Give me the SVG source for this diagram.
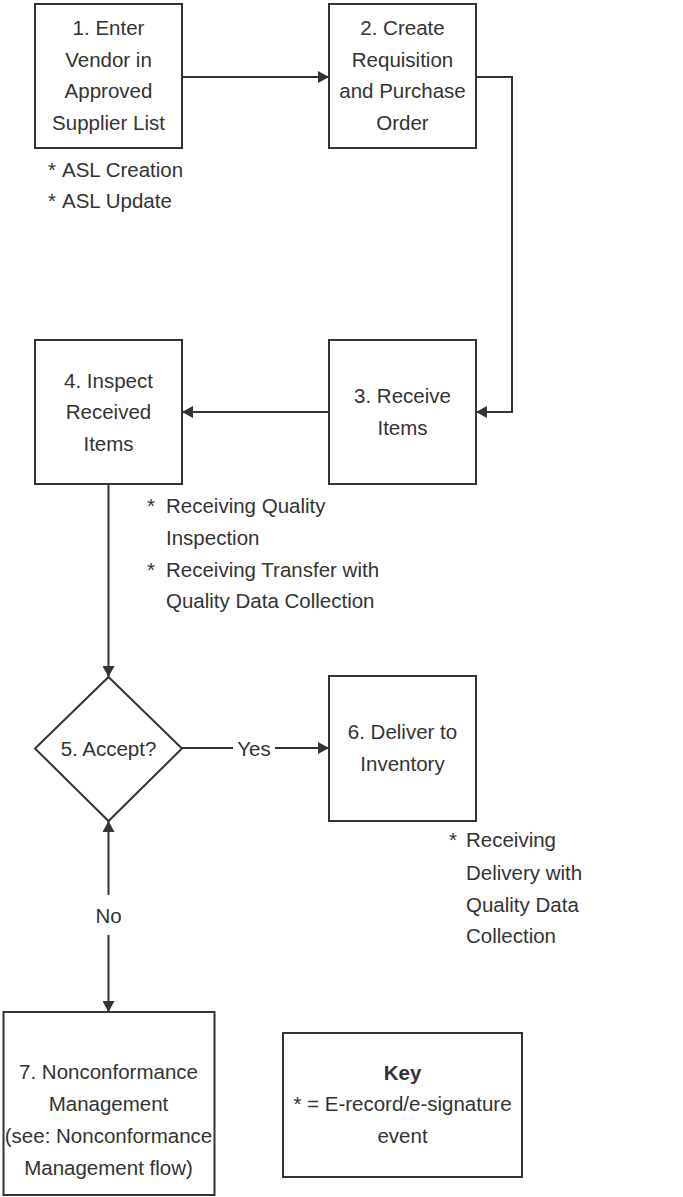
<svg xmlns="http://www.w3.org/2000/svg" width="683" height="1197" viewBox="0 0 683 1197">
  <style>
    .box { fill: #ffffff; stroke: #333333; stroke-width: 2; }
    .line { fill: none; stroke: #333333; stroke-width: 2; }
    text { font-family: "Liberation Sans", Arial, sans-serif; font-size: 20.5px; fill: #333333; }
    .c { text-anchor: middle; }
    .b { font-weight: bold; }
  </style>
  <defs>
    <marker id="arrow" markerUnits="userSpaceOnUse" markerWidth="12" markerHeight="12" refX="11" refY="6" orient="auto">
      <path d="M0,0 L11,6 L0,12 z" fill="#333333"/>
    </marker>
  </defs>

  <rect width="683" height="1197" fill="#ffffff"/>

  <g id="connectors">
    <path class="line" d="M182,77 H329" marker-end="url(#arrow)"/>
    <path class="line" d="M476,77 H512 V412 H476" marker-end="url(#arrow)"/>
    <path class="line" d="M329,412 H182" marker-end="url(#arrow)"/>
    <path class="line" d="M108.5,484 V677" marker-end="url(#arrow)"/>
    <path class="line" d="M182,748 H233"/>
    <path class="line" d="M275,748 H329" marker-end="url(#arrow)"/>
    <text class="c" x="254" y="756">Yes</text>
    <path class="line" d="M108.5,895 V821" marker-end="url(#arrow)"/>
    <path class="line" d="M108.5,935 V1012" marker-end="url(#arrow)"/>
    <text class="c" x="108.5" y="923">No</text>
  </g>

  <g id="node1">
    <rect class="box" x="35" y="4" width="147" height="144"/>
    <text class="c" x="108.5" y="35">1. Enter</text>
    <text class="c" x="108.5" y="67">Vendor in</text>
    <text class="c" x="108.5" y="98">Approved</text>
    <text class="c" x="108.5" y="130">Supplier List</text>
  </g>
  <g id="node1-events">
    <text x="48" y="177">*</text><text x="62" y="177">ASL Creation</text>
    <text x="48" y="208">*</text><text x="62" y="208">ASL Update</text>
  </g>

  <g id="node2">
    <rect class="box" x="329" y="4" width="147" height="144"/>
    <text class="c" x="402.5" y="35">2. Create</text>
    <text class="c" x="402.5" y="67">Requisition</text>
    <text class="c" x="402.5" y="98">and Purchase</text>
    <text class="c" x="402.5" y="130">Order</text>
  </g>

  <g id="node3">
    <rect class="box" x="329" y="340" width="147" height="144"/>
    <text class="c" x="402.5" y="403">3. Receive</text>
    <text class="c" x="402.5" y="435">Items</text>
  </g>

  <g id="node4">
    <rect class="box" x="35" y="340" width="147" height="144"/>
    <text class="c" x="108.5" y="388">4. Inspect</text>
    <text class="c" x="108.5" y="419">Received</text>
    <text class="c" x="108.5" y="451">Items</text>
  </g>
  <g id="node4-events">
    <text x="147" y="513">*</text><text x="166" y="513">Receiving Quality</text>
    <text x="166" y="545">Inspection</text>
    <text x="147" y="577">*</text><text x="166" y="577">Receiving Transfer with</text>
    <text x="166" y="608">Quality Data Collection</text>
  </g>

  <g id="node5">
    <polygon class="box" points="108.5,677 182,748.5 108.5,821 35,748.5"/>
    <text class="c" x="108.5" y="756">5. Accept?</text>
  </g>

  <g id="node6">
    <rect class="box" x="329" y="676" width="147" height="145"/>
    <text class="c" x="402.5" y="739">6. Deliver to</text>
    <text class="c" x="402.5" y="771">Inventory</text>
  </g>
  <g id="node6-events">
    <text x="449" y="847">*</text><text x="466" y="847">Receiving</text>
    <text x="466" y="880">Delivery with</text>
    <text x="466" y="912">Quality Data</text>
    <text x="466" y="943">Collection</text>
  </g>

  <g id="node7">
    <rect class="box" x="3.5" y="1012" width="211" height="183"/>
    <text class="c" x="108.5" y="1079">7. Nonconformance</text>
    <text class="c" x="108.5" y="1111">Management</text>
    <text class="c" x="108.5" y="1143">(see: Nonconformance</text>
    <text class="c" x="108.5" y="1175">Management flow)</text>
  </g>

  <g id="key">
    <rect class="box" x="283" y="1033" width="239" height="144"/>
    <text class="c b" x="402.5" y="1080">Key</text>
    <text class="c" x="402.5" y="1111">* = E-record/e-signature</text>
    <text class="c" x="402.5" y="1143">event</text>
  </g>
</svg>
